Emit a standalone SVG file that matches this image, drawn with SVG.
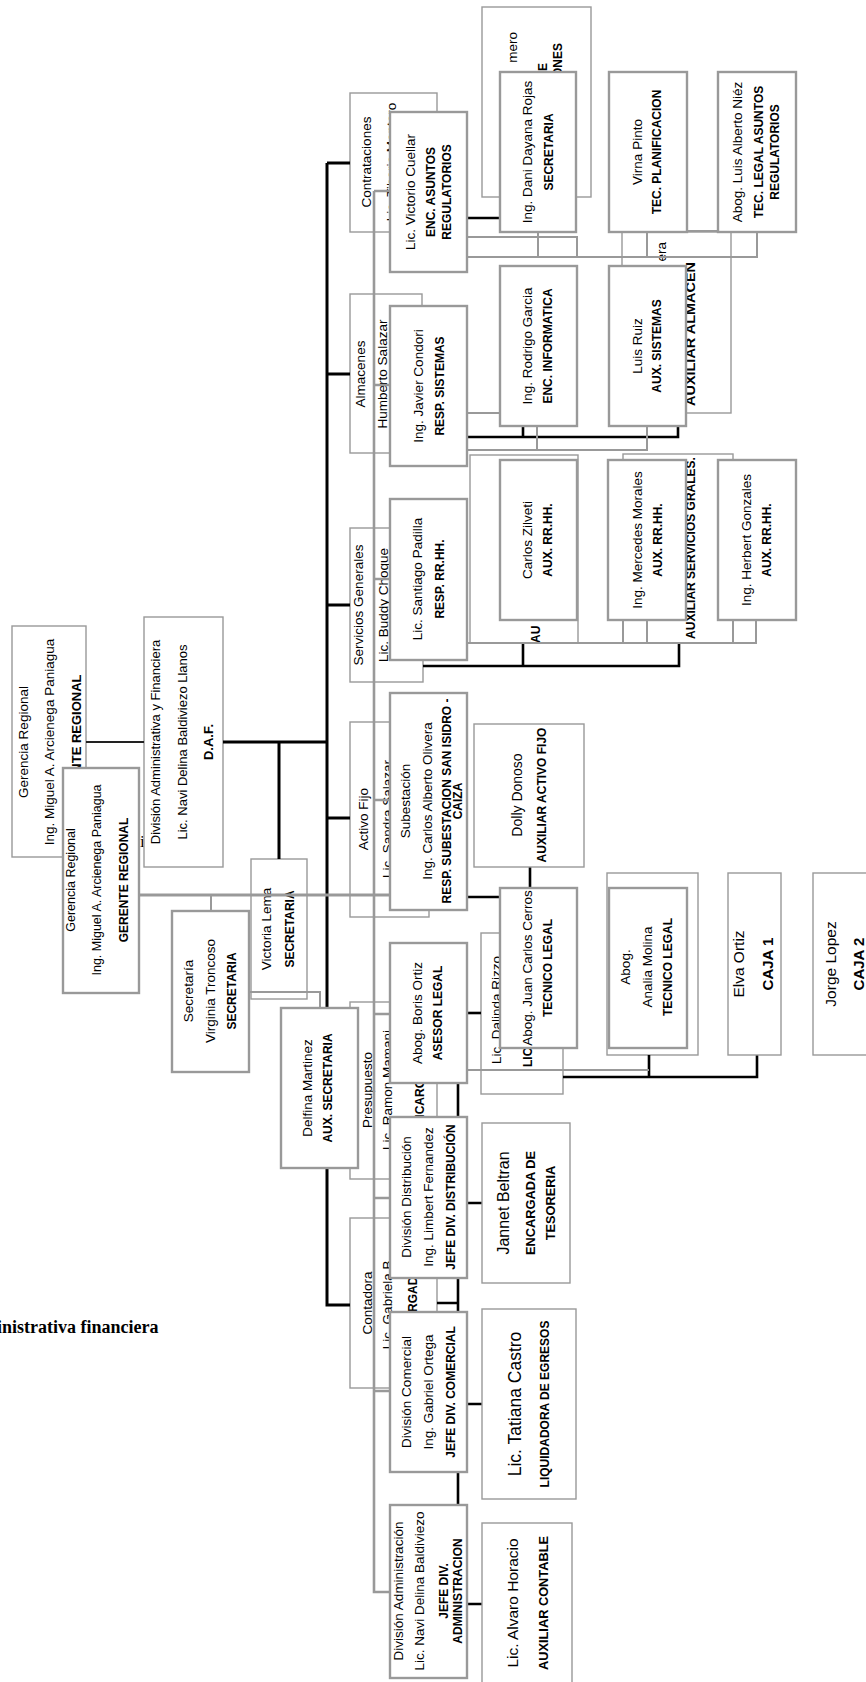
<svg xmlns="http://www.w3.org/2000/svg" width="866" height="1682" viewBox="0 0 866 1682">
<style>
.ob{fill:#fff;stroke:#999;stroke-width:1.4}
.nb{fill:#fff;stroke:#999;stroke-width:2.4}
.t{font-family:"Liberation Sans",Arial,sans-serif;font-size:13.5px;fill:#000;text-anchor:middle;dominant-baseline:central}
.b{font-weight:bold;font-size:12px}
.e{text-anchor:end}
.s{text-anchor:start}
.bk{stroke:#000;stroke-width:2.6;fill:none}
.gy{stroke:#999;stroke-width:2;fill:none}
.ser{font-family:"Liberation Serif","Times New Roman",serif;font-size:17px;fill:#000}
</style>
<rect width="866" height="1682" fill="#fff"/>
<text class="ser" x="115" y="847">R Sistema</text>
<text class="ser" x="-3" y="1333" style="font-weight:bold;font-size:18px">inistrativa financiera</text>

<!-- back layer -->
<g id="gerencia-back">
<rect class="ob" x="12" y="626" width="74" height="231"/>
<text class="t" transform="translate(23,742) rotate(-90)">Gerencia Regional</text>
<text class="t" transform="translate(49,742) rotate(-90)">Ing. Miguel A. Arcienega Paniagua</text>
<text class="t b" style="font-size:13px" transform="translate(76,742) rotate(-90)">GERENTE REGIONAL</text>
</g>
<g id="daf">
<rect class="ob" x="144" y="617" width="79" height="250"/>
<text class="t" style="font-size:13px" transform="translate(155,742) rotate(-90)">División Administrativa y Financiera</text>
<text class="t" style="font-size:13px" transform="translate(182,742) rotate(-90)">Lic. Navi Delina Baldiviezo Llanos</text>
<text class="t b" style="font-size:13px" transform="translate(208,742) rotate(-90)">D.A.F.</text>
</g>
<g id="secretaria">
<rect class="nb" x="172" y="911" width="77" height="161"/>
<text class="t" transform="translate(188,991) rotate(-90)">Secretaría</text>
<text class="t" transform="translate(210,991) rotate(-90)">Virginia Troncoso</text>
<text class="t b" transform="translate(232,991) rotate(-90)">SECRETARIA</text>
</g>
<g id="victoria">
<rect class="ob" x="251" y="859" width="56" height="140"/>
<text class="t" transform="translate(266,929) rotate(-90)">Victoria Lema</text>
<text class="t b" transform="translate(290,929) rotate(-90)">SECRETARIA</text>
</g>
<g id="contrataciones">
<rect class="ob" x="350" y="93" width="87" height="139"/>
<text class="t" transform="translate(366,162) rotate(-90)">Contrataciones</text>
<text class="t" transform="translate(391,162) rotate(-90)">Lic. Tiberio Montero</text>
</g>
<g id="almacenes">
<rect class="ob" x="350" y="294" width="72" height="159"/>
<text class="t" transform="translate(360,374) rotate(-90)">Almacenes</text>
<text class="t" transform="translate(382,374) rotate(-90)">Humberto Salazar</text>
</g>
<g id="servicios">
<rect class="ob" x="350" y="528" width="73" height="154"/>
<text class="t" transform="translate(358,605) rotate(-90)">Servicios Generales</text>
<text class="t" transform="translate(383,605) rotate(-90)">Lic. Buddy Choque</text>
</g>
<g id="activo">
<rect class="ob" x="350" y="722" width="79" height="195"/>
<text class="t" transform="translate(363,819) rotate(-90)">Activo Fijo</text>
<text class="t" transform="translate(387,819) rotate(-90)">Lic. Sandra Salazar</text>
</g>
<g id="presupuesto">
<rect class="ob" x="350" y="1002" width="87" height="177"/>
<text class="t" transform="translate(367,1090) rotate(-90)">Presupuesto</text>
<text class="t" transform="translate(387,1090) rotate(-90)">Lic. Ramon Mamani</text>
<text class="t b s" transform="translate(420,1131) rotate(-90)">ENCARGADO</text>
</g>
<g id="contadora">
<rect class="ob" x="350" y="1218" width="87" height="170"/>
<text class="t" transform="translate(367,1303) rotate(-90)">Contadora</text>
<text class="t" transform="translate(387,1303) rotate(-90)">Lic. Gabriela B.</text>
<text class="t b s" transform="translate(413,1346) rotate(-90)">ENCARGADA</text>
</g>
<g id="adquisiciones-back">
<rect class="ob" x="482" y="7" width="109" height="190"/>
<text class="t e" transform="translate(512,32) rotate(-90)">mero</text>
<text class="t b e" transform="translate(543,63) rotate(-90)">E</text>
<text class="t b e" transform="translate(558,43) rotate(-90)">ONES</text>
</g>
<g id="almacen-back">
<rect class="ob" x="622" y="232" width="109" height="181"/>
<text class="t e" transform="translate(661,242) rotate(-90)">era</text>
<text class="t b e" textLength="144" lengthAdjust="spacingAndGlyphs" style="font-size:13px" transform="translate(690,262) rotate(-90)">AUXILIAR ALMACEN</text>
</g>
<g id="aux-back">
<rect class="ob" x="470" y="455" width="108" height="188"/>
<text class="t b s" transform="translate(536,643) rotate(-90)">AU</text>
</g>
<g id="servgrales-back">
<rect class="ob" x="623" y="454" width="110" height="189"/>
<text class="t b" transform="translate(691,548) rotate(-90)">AUXILIAR SERVICIOS GRALES.</text>
</g>
<g id="dalinda-back">
<rect class="ob" x="481" y="933" width="82" height="161"/>
<text class="t" transform="translate(496,1010) rotate(-90)">Lic. Dalinda Rizzo</text>
<text class="t b s" transform="translate(528,1067) rotate(-90)">LIC</text>
</g>
<g id="analia-back">
<rect class="ob" x="607" y="873" width="91" height="182"/>
</g>

<!-- connectors -->
<g id="connectors">
<path class="bk" style="stroke-width:1.8;stroke:#222" d="M86,742 H144"/>
<path class="bk" style="stroke-width:3" d="M223,742 H327 M279,742 V859"/>
<path class="bk" style="stroke-width:3" d="M327,163 V1305 H350 M327,163 H350 M327,374 H350 M327,605 H350 M327,818 H350"/>
<path class="bk" d="M467,218 H500"/>
<path class="bk" d="M467,437 H678 V427 M523,427 V437"/>
<path class="bk" d="M423,666 H679 V643 M523,643 V666"/>
<path class="bk" d="M467,897 H500 M530,867 V888"/>
<path class="bk" d="M467,1013 H481"/>
<path class="bk" d="M563,1077 H757 V1055 M649,1055 V1077"/>
<path class="bk" d="M458,1050 V1604 M437,1303 H458 M458,1203 H482 M458,1404 H482 M458,1604 H482"/>
<path class="gy" style="stroke-width:2.6" d="M374,191 V1592 H390 M374,191 H390 M374,385 H390 M374,579 H390 M374,800 H390 M374,1014 H390 M374,1198 H390 M374,1391 H390"/>
<path class="gy" style="stroke-width:3" d="M139,895 H390"/>
<path class="gy" d="M211,895 V911 M250,992 H320 V1008"/>
<path class="gy" d="M467,237 H577 V257 M467,257 H757 V232 M538,232 V257 M647,232 V257 M687,231 H718"/>
<path class="gy" d="M467,413 H500 M467,450 H647 V426 M537,426 V450"/>
<path class="gy" d="M468,643 H757 M623,620 V643 M647,620 V643 M733,620 V643 M756,620 V643"/>
<path class="gy" d="M467,1070 H649"/>
</g>

<!-- front layer -->
<g id="gerencia">
<rect class="nb" x="63" y="768" width="76" height="225"/>
<text class="t" style="font-size:12.5px" transform="translate(71,880) rotate(-90)">Gerencia Regional</text>
<text class="t" style="font-size:12.5px" transform="translate(97,880) rotate(-90)">Ing. Miguel A. Arcienega Paniagua</text>
<text class="t b" transform="translate(124,880) rotate(-90)">GERENTE REGIONAL</text>
</g>
<g id="delfina">
<rect class="nb" x="281" y="1008" width="77" height="160"/>
<text class="t" transform="translate(307,1088) rotate(-90)">Delfina Martinez</text>
<text class="t b" transform="translate(328,1088) rotate(-90)">AUX. SECRETARIA</text>
</g>
<g id="victorio">
<rect class="nb" x="390" y="112" width="77" height="160"/>
<text class="t" transform="translate(410,192) rotate(-90)">Lic. Victorio Cuellar</text>
<text class="t b" transform="translate(431,192) rotate(-90)">ENC. ASUNTOS</text>
<text class="t b" transform="translate(447,192) rotate(-90)">REGULATORIOS</text>
</g>
<g id="javier">
<rect class="nb" x="390" y="306" width="77" height="160"/>
<text class="t" transform="translate(418,386) rotate(-90)">Ing. Javier Condori</text>
<text class="t b" transform="translate(440,386) rotate(-90)">RESP. SISTEMAS</text>
</g>
<g id="santiago">
<rect class="nb" x="390" y="499" width="77" height="161"/>
<text class="t" transform="translate(417,579) rotate(-90)">Lic. Santiago Padilla</text>
<text class="t b" transform="translate(440,579) rotate(-90)">RESP. RR.HH.</text>
</g>
<g id="subestacion">
<rect class="nb" x="390" y="693" width="77" height="217"/>
<text class="t" transform="translate(405,801) rotate(-90)">Subestación</text>
<text class="t" transform="translate(427,801) rotate(-90)">Ing. Carlos Alberto Olivera</text>
<text class="t b" transform="translate(447,801) rotate(-90)">RESP. SUBESTACION SAN ISIDRO -</text>
<text class="t b" transform="translate(458,801) rotate(-90)">CAIZA</text>
</g>
<g id="boris">
<rect class="nb" x="390" y="943" width="77" height="140"/>
<text class="t" transform="translate(417,1013) rotate(-90)">Abog. Boris Ortiz</text>
<text class="t b" transform="translate(438,1013) rotate(-90)">ASESOR LEGAL</text>
</g>
<g id="limbert">
<rect class="nb" x="390" y="1117" width="77" height="161"/>
<text class="t" transform="translate(406,1197) rotate(-90)">División Distribución</text>
<text class="t" transform="translate(428,1197) rotate(-90)">Ing. Limbert Fernandez</text>
<text class="t b" transform="translate(451,1197) rotate(-90)">JEFE DIV. DISTRIBUCIÓN</text>
</g>
<g id="gabriel">
<rect class="nb" x="390" y="1312" width="77" height="160"/>
<text class="t" transform="translate(406,1392) rotate(-90)">División Comercial</text>
<text class="t" transform="translate(428,1392) rotate(-90)">Ing. Gabriel Ortega</text>
<text class="t b" transform="translate(451,1392) rotate(-90)">JEFE DIV. COMERCIAL</text>
</g>
<g id="administracion">
<rect class="nb" x="390" y="1505" width="77" height="173"/>
<text class="t" transform="translate(398,1591) rotate(-90)">División Administración</text>
<text class="t" transform="translate(419,1591) rotate(-90)">Lic. Navi Delina Baldiviezo</text>
<text class="t b" transform="translate(444,1591) rotate(-90)">JEFE DIV.</text>
<text class="t b" transform="translate(458,1591) rotate(-90)">ADMINISTRACION</text>
</g>
<g id="dani">
<rect class="nb" x="500" y="72" width="76" height="160"/>
<text class="t" transform="translate(527,152) rotate(-90)">Ing. Dani Dayana Rojas</text>
<text class="t b" transform="translate(549,152) rotate(-90)">SECRETARIA</text>
</g>
<g id="virna">
<rect class="nb" x="609" y="72" width="78" height="160"/>
<text class="t" transform="translate(637,152) rotate(-90)">Virna Pinto</text>
<text class="t b" transform="translate(657,152) rotate(-90)">TEC. PLANIFICACION</text>
</g>
<g id="luis-alberto">
<rect class="nb" x="718" y="72" width="78" height="160"/>
<text class="t" transform="translate(737,152) rotate(-90)">Abog. Luis Alberto Niéz</text>
<text class="t b" transform="translate(759,152) rotate(-90)">TEC. LEGAL ASUNTOS</text>
<text class="t b" transform="translate(775,152) rotate(-90)">REGULATORIOS</text>
</g>
<g id="rodrigo">
<rect class="nb" x="500" y="266" width="77" height="160"/>
<text class="t" transform="translate(527,346) rotate(-90)">Ing. Rodrigo Garcia</text>
<text class="t b" transform="translate(548,346) rotate(-90)">ENC. INFORMATICA</text>
</g>
<g id="luis-ruiz">
<rect class="nb" x="609" y="266" width="77" height="160"/>
<text class="t" transform="translate(637,346) rotate(-90)">Luis Ruiz</text>
<text class="t b" transform="translate(657,346) rotate(-90)">AUX. SISTEMAS</text>
</g>
<g id="carlos">
<rect class="nb" x="500" y="460" width="77" height="160"/>
<text class="t" transform="translate(527,540) rotate(-90)">Carlos Zilveti</text>
<text class="t b" transform="translate(548,540) rotate(-90)">AUX. RR.HH.</text>
</g>
<g id="mercedes">
<rect class="nb" x="608" y="460" width="78" height="160"/>
<text class="t" transform="translate(637,540) rotate(-90)">Ing. Mercedes Morales</text>
<text class="t b" transform="translate(658,540) rotate(-90)">AUX. RR.HH.</text>
</g>
<g id="herbert">
<rect class="nb" x="718" y="460" width="78" height="160"/>
<text class="t" transform="translate(746,540) rotate(-90)">Ing. Herbert Gonzales</text>
<text class="t b" transform="translate(767,540) rotate(-90)">AUX. RR.HH.</text>
</g>
<g id="dolly">
<rect class="ob" x="474" y="724" width="110" height="143"/>
<text class="t" style="font-size:14px" transform="translate(517,795) rotate(-90)">Dolly Donoso</text>
<text class="t b" transform="translate(542,795) rotate(-90)">AUXILIAR ACTIVO FIJO</text>
</g>
<g id="juan-carlos">
<rect class="nb" x="500" y="888" width="77" height="160"/>
<text class="t" transform="translate(527,968) rotate(-90)">Abog. Juan Carlos Cerros</text>
<text class="t b" transform="translate(548,968) rotate(-90)">TECNICO LEGAL</text>
</g>
<g id="analia">
<rect class="nb" x="609" y="888" width="78" height="160"/>
<text class="t" transform="translate(625,967) rotate(-90)">Abog.</text>
<text class="t" transform="translate(647,967) rotate(-90)">Analia Molina</text>
<text class="t b" transform="translate(668,967) rotate(-90)">TECNICO LEGAL</text>
</g>
<g id="elva">
<rect class="ob" x="728" y="873" width="53" height="182"/>
<text class="t" style="font-size:15.5px" transform="translate(738,964) rotate(-90)">Elva Ortiz</text>
<text class="t b" style="font-size:15px" transform="translate(767,964) rotate(-90)">CAJA 1</text>
</g>
<g id="jorge">
<rect class="ob" x="813" y="873" width="60" height="182"/>
<text class="t" style="font-size:15.5px" transform="translate(830,964) rotate(-90)">Jorge Lopez</text>
<text class="t b" style="font-size:15px" transform="translate(858,964) rotate(-90)">CAJA 2</text>
</g>
<g id="jannet">
<rect class="ob" x="482" y="1123" width="88" height="160"/>
<text class="t" style="font-size:16px" transform="translate(503,1203) rotate(-90)">Jannet Beltran</text>
<text class="t b" style="font-size:12.8px" transform="translate(530,1203) rotate(-90)">ENCARGADA DE</text>
<text class="t b" style="font-size:12.8px" transform="translate(550,1203) rotate(-90)">TESORERIA</text>
</g>
<g id="tatiana">
<rect class="ob" x="482" y="1309" width="94" height="190"/>
<text class="t" style="font-size:17.5px" transform="translate(515,1404) rotate(-90)">Lic. Tatiana Castro</text>
<text class="t b" transform="translate(545,1404) rotate(-90)">LIQUIDADORA DE EGRESOS</text>
</g>
<g id="alvaro">
<rect class="ob" x="482" y="1523" width="90" height="170"/>
<text class="t" style="font-size:15.5px" transform="translate(512,1603) rotate(-90)">Lic. Alvaro Horacio</text>
<text class="t b" style="font-size:12.8px" transform="translate(543,1603) rotate(-90)">AUXILIAR CONTABLE</text>
</g>
</svg>
